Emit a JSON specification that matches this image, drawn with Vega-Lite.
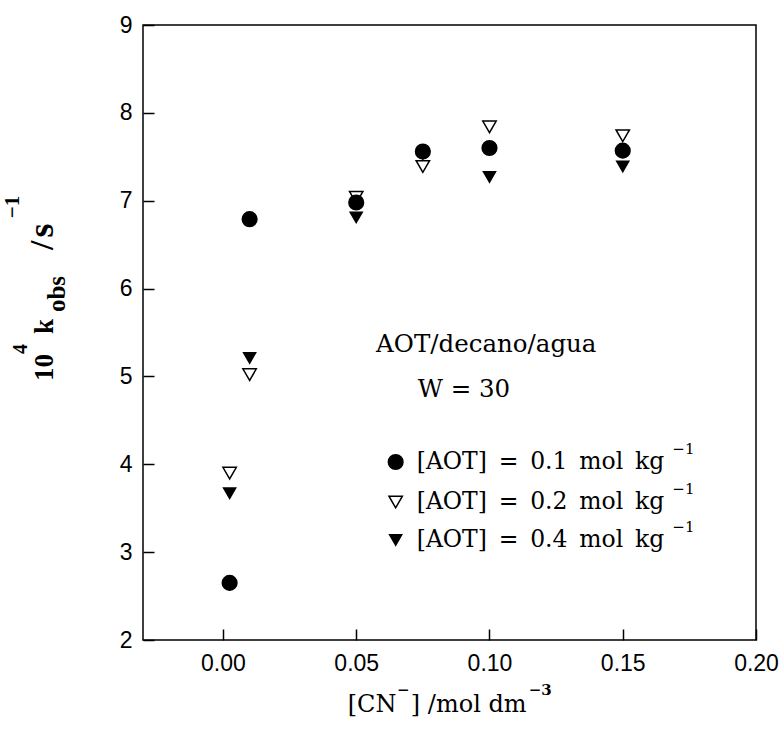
{
  "$schema": "https://vega.github.io/schema/vega-lite/v6.json",
  "width": 613,
  "height": 615,
  "autosize": {"type": "none"},
  "padding": {"left": 143, "top": 25, "right": 28, "bottom": 89},
  "background": "white",
  "config": {
    "view": {"stroke": "black", "strokeWidth": 1.5},
    "axis": {"grid": false, "domain": false, "title": null, "tickColor": "black", "tickWidth": 1.5, "tickSize": -11, "labelColor": "black", "labelFont": "Liberation Sans", "labelFontSize": 23, "labelFlush": false, "labelOverlap": false}
  },
  "datasets": {
    "pts": [
      {"x": 0.0025, "y": 3.90, "series": "0.2"},
      {"x": 0.01, "y": 5.02, "series": "0.2"},
      {"x": 0.05, "y": 7.04, "series": "0.2"},
      {"x": 0.075, "y": 7.39, "series": "0.2"},
      {"x": 0.10, "y": 7.84, "series": "0.2"},
      {"x": 0.15, "y": 7.74, "series": "0.2"},
      {"x": 0.0025, "y": 3.67, "series": "0.4"},
      {"x": 0.01, "y": 5.21, "series": "0.4"},
      {"x": 0.05, "y": 6.81, "series": "0.4"},
      {"x": 0.075, "y": 7.53, "series": "0.4"},
      {"x": 0.10, "y": 7.27, "series": "0.4"},
      {"x": 0.15, "y": 7.39, "series": "0.4"},
      {"x": 0.0025, "y": 2.65, "series": "0.1"},
      {"x": 0.01, "y": 6.79, "series": "0.1"},
      {"x": 0.05, "y": 6.98, "series": "0.1"},
      {"x": 0.075, "y": 7.56, "series": "0.1"},
      {"x": 0.10, "y": 7.60, "series": "0.1"},
      {"x": 0.15, "y": 7.57, "series": "0.1"}
    ],
    "legpts": [
      {"x": 0.0648, "y": 4.026, "series": "0.1"},
      {"x": 0.0648, "y": 3.571, "series": "0.2"},
      {"x": 0.0648, "y": 3.139, "series": "0.4"}
    ],
    "annotC": [
      {"x": 0.0988, "y": 5.358, "t": "AOT/decano/agua"},
      {"x": 0.0904, "y": 4.846, "t": "W = 30"}
    ],
    "rows": [
      {"x": 0.0727, "y": 4.026, "t": "[AOT]\u2002=\u20020.1\u2002mol\u2002kg"},
      {"x": 0.0727, "y": 3.571, "t": "[AOT]\u2002=\u20020.2\u2002mol\u2002kg"},
      {"x": 0.0727, "y": 3.139, "t": "[AOT]\u2002=\u20020.4\u2002mol\u2002kg"}
    ],
    "rowsSup": [
      {"x": 0.1686, "y": 4.026, "t": "−1"},
      {"x": 0.1686, "y": 3.571, "t": "−1"},
      {"x": 0.1686, "y": 3.139, "t": "−1"}
    ],
    "xtitle": [
      {"x": 0.0468, "y": 1.181, "t": "[CN"},
      {"x": 0.0705, "y": 1.181, "t": "] /mol dm"}
    ],
    "xtitleSup": [
      {"x": 0.0653, "y": 1.181, "t": "−"},
      {"x": 0.1147, "y": 1.181, "t": "−3"}
    ],
    "ytitle": [
      {"x": -0.0636, "y": 4.948, "t": "10"},
      {"x": -0.0636, "y": 5.483, "t": "k"}
    ],
    "ytitleSlash": [
      {"x": -0.0636, "y": 6.439, "t": "/"}
    ],
    "ytitleS": [
      {"x": -0.0636, "y": 6.58, "t": "s"}
    ],
    "ytitleSup4": [
      {"x": -0.0636, "y": 5.256, "t": "4"}
    ],
    "ytitleSup1": [
      {"x": -0.0636, "y": 6.80, "t": "−1"}
    ],
    "ytitleSub": [
      {"x": -0.0636, "y": 5.733, "t": "obs"}
    ]
  },
  "encoding": {
    "x": {
      "field": "x", "type": "quantitative",
      "scale": {"domain": [-0.03, 0.2], "nice": false, "zero": false},
      "axis": {"values": [0, 0.05, 0.1, 0.15, 0.2], "format": ".2f", "labelPadding": 23}
    },
    "y": {
      "field": "y", "type": "quantitative",
      "scale": {"domain": [2, 9], "nice": false, "zero": false},
      "axis": {"values": [2, 3, 4, 5, 6, 7, 8, 9], "format": "d", "labelPadding": 22}
    }
  },
  "layer": [
    {
      "data": {"name": "pts"},
      "mark": {"type": "point", "filled": false, "stroke": "black", "strokeWidth": 1.5, "opacity": 1},
      "encoding": {
        "shape": {"field": "series", "type": "nominal", "scale": {"domain": ["0.1", "0.2", "0.4"], "range": ["circle", "triangle-down", "triangle-down"]}, "legend": null},
        "fill": {"field": "series", "type": "nominal", "scale": {"domain": ["0.1", "0.2", "0.4"], "range": ["black", "white", "black"]}, "legend": null},
        "size": {"field": "series", "type": "nominal", "scale": {"domain": ["0.1", "0.2", "0.4"], "range": [215, 145, 145]}, "legend": null}
      }
    },
    {
      "data": {"name": "legpts"},
      "mark": {"type": "point", "filled": false, "stroke": "black", "strokeWidth": 1.5, "opacity": 1},
      "encoding": {
        "shape": {"field": "series", "type": "nominal", "legend": null},
        "fill": {"field": "series", "type": "nominal", "legend": null},
        "size": {"field": "series", "type": "nominal", "legend": null}
      }
    },
    {
      "data": {"name": "annotC"},
      "mark": {"type": "text", "font": "DejaVu Serif", "fontSize": 24.5, "align": "center", "baseline": "middle", "color": "black"},
      "encoding": {"text": {"field": "t"}}
    },
    {
      "data": {"name": "rows"},
      "mark": {"type": "text", "font": "DejaVu Serif", "fontSize": 23.5, "align": "left", "baseline": "middle", "color": "black"},
      "encoding": {"text": {"field": "t"}}
    },
    {
      "data": {"name": "rowsSup"},
      "mark": {"type": "text", "font": "DejaVu Serif", "fontSize": 15, "align": "left", "baseline": "middle", "dy": -13, "color": "black"},
      "encoding": {"text": {"field": "t"}}
    },
    {
      "data": {"name": "xtitle"},
      "mark": {"type": "text", "font": "DejaVu Serif", "fontSize": 24, "align": "left", "baseline": "alphabetic", "color": "black"},
      "encoding": {"text": {"field": "t"}}
    },
    {
      "data": {"name": "xtitleSup"},
      "mark": {"type": "text", "font": "DejaVu Serif", "fontWeight": "bold", "fontSize": 15, "align": "left", "baseline": "alphabetic", "dy": -17, "color": "black"},
      "encoding": {"text": {"field": "t"}}
    },
    {
      "data": {"name": "ytitle"},
      "mark": {"type": "text", "font": "Liberation Serif", "fontWeight": "bold", "fontSize": 27, "align": "left", "baseline": "alphabetic", "angle": 270, "color": "black"},
      "encoding": {"text": {"field": "t"}}
    },
    {
      "data": {"name": "ytitleSlash"},
      "mark": {"type": "text", "font": "Liberation Serif", "fontWeight": "bold", "fontSize": 34, "align": "left", "baseline": "alphabetic", "angle": 270, "color": "black"},
      "encoding": {"text": {"field": "t"}}
    },
    {
      "data": {"name": "ytitleS"},
      "mark": {"type": "text", "font": "Liberation Serif", "fontWeight": "bold", "fontSize": 36, "align": "left", "baseline": "alphabetic", "angle": 270, "color": "black"},
      "encoding": {"text": {"field": "t"}}
    },
    {
      "data": {"name": "ytitleSup4"},
      "mark": {"type": "text", "font": "Liberation Serif", "fontWeight": "bold", "fontSize": 20, "align": "left", "baseline": "alphabetic", "angle": 270, "dy": -26, "color": "black"},
      "encoding": {"text": {"field": "t"}}
    },
    {
      "data": {"name": "ytitleSup1"},
      "mark": {"type": "text", "font": "Liberation Serif", "fontWeight": "bold", "fontSize": 21, "align": "left", "baseline": "alphabetic", "angle": 270, "dy": -34, "color": "black"},
      "encoding": {"text": {"field": "t"}}
    },
    {
      "data": {"name": "ytitleSub"},
      "mark": {"type": "text", "font": "Liberation Serif", "fontWeight": "bold", "fontSize": 25, "align": "left", "baseline": "alphabetic", "angle": 270, "dy": 12, "color": "black"},
      "encoding": {"text": {"field": "t"}}
    }
  ]
}
